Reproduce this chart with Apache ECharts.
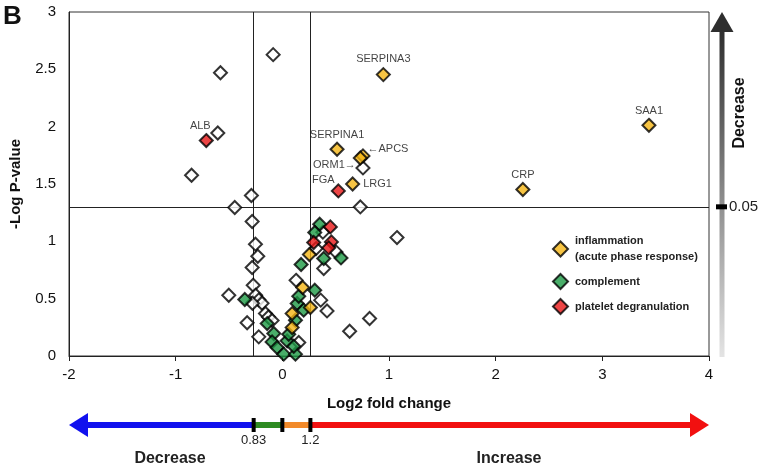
<!DOCTYPE html>
<html><head><meta charset="utf-8">
<script src="https://cdn.jsdelivr.net/npm/echarts@6/dist/echarts.min.js"></script>
<style>html,body{margin:0;padding:0;background:#fff}#c{width:765px;height:469px}</style>
</head><body><div id="c"></div>
<script>
// ---- data (log2 fold change, -log10 p) ----
const otherPts = [[-0.086,2.628],[-0.58,2.47],[-0.605,1.945],[-0.851,1.576],[-0.29,1.40],[-0.446,1.295],[-0.283,1.173],
  [-0.252,0.975],[-0.23,0.87],[-0.283,0.772],[-0.273,0.617],[-0.502,0.53],[-0.25,0.53],[-0.22,0.49],[-0.19,0.46],[-0.28,0.46],
  [-0.33,0.29],[-0.158,0.37],[-0.13,0.34],[-0.096,0.31],[-0.221,0.167],[0.756,1.64],[0.731,1.30],[1.075,1.033],[0.38,1.08],
  [0.316,0.937],[0.503,0.908],[0.388,0.763],[0.129,0.66],[0.36,0.487],[0.419,0.393],[0.818,0.327],[0.631,0.216],[0.154,0.118]];
const complementPts = [[-0.352,0.493],[-0.142,0.283],[-0.08,0.196],[-0.096,0.123],[-0.049,0.074],[0.013,0.016],[0.045,0.132],
  [0.123,0.016],[0.107,0.085],[0.06,0.19],[0.123,0.312],[0.139,0.458],[0.154,0.521],[0.2,0.4],[0.304,0.574],[0.176,0.798],
  [0.35,1.149],[0.304,1.077],[0.388,0.85],[0.55,0.855]];
const plateletPts = [[-0.713,1.879],[0.525,1.44],[0.45,1.126],[0.294,0.99],[0.46,0.995],[0.435,0.943]];
const plateletNames = ['ALB','FGA','','','',''];
const inflammationPts = [[0.947,2.454],[3.437,2.012],[0.513,1.803],[0.756,1.745],[0.731,1.727],[0.659,1.50],[2.255,1.452],
  [0.254,0.885],[0.191,0.597],[0.263,0.423],[0.092,0.37],[0.092,0.248]];
const inflammationNames = ['SERPINA3','SAA1','SERPINA1','APCS','ORM1','LRG1','CRP','','','','',''];
const legendNames = ['inflammation','complement','platelet degranulation'];
const legendText = {'inflammation':'inflammation\n(acute phase response)','complement':'complement','platelet degranulation':'platelet degranulation'};
const FC_LOW = 0.83, FC_HIGH = 1.2, P_CUT = 0.05;
const xTicks = {min:-2,max:4,interval:1};
const yTicks = {min:0,max:3,interval:0.5};

// ---- label placement (style) ----
const labelStyle = {
  'SERPINA3':{position:'top',distance:3},
  'SAA1':{position:'top',distance:1},
  'SERPINA1':{position:'top',distance:1},
  'CRP':{position:'top',distance:2},
  'ALB':{position:'top',distance:2,offset:[-6,0]},
  'FGA':{position:'top',distance:0,offset:[-15,2]},
  'LRG1':{position:'right',distance:3},
  'APCS':{position:'right',distance:0,offset:[-3,-7],formatter:'←APCS'},
  'ORM1':{position:'left',distance:-3,offset:[0,7],formatter:'ORM1→'}
};
function toItems(pts, names){
  return pts.map((p,i)=>{
    const n = names ? names[i] : '';
    const it = {value:p, name:n};
    if(n){ const s = labelStyle[n]||{position:'top'};
      it.label = Object.assign({show:true, formatter: s.formatter||n}, s);
    }
    return it;
  });
}
const FONT = '"Liberation Sans", Arial, sans-serif';
const base = {type:'scatter', symbol:'diamond', symbolSize:13,
  label:{show:false, fontSize:11, color:'#111', fontFamily:FONT}, emphasis:{disabled:true}};
const chart = echarts.init(document.getElementById('c'));
chart.setOption({
  animation:false,
  textStyle:{fontFamily:FONT},
  grid:{left:68,right:56,top:12,bottom:113,show:true,borderColor:'#333',borderWidth:1},
  xAxis:{type:'value',min:xTicks.min,max:xTicks.max,interval:xTicks.interval,
    splitLine:{show:false},axisLine:{onZero:false,lineStyle:{color:'#222',width:1}},
    axisTick:{show:true,length:5,lineStyle:{color:'#222'}},
    axisLabel:{color:'#111',fontSize:15,margin:11},
    name:'Log2 fold change',nameLocation:'middle',nameGap:40,
    nameTextStyle:{fontWeight:'bold',fontSize:15,color:'#111'}},
  yAxis:{type:'value',min:yTicks.min,max:yTicks.max,interval:yTicks.interval,
    splitLine:{show:false},axisLine:{show:true,onZero:false,lineStyle:{color:'#222',width:1}},
    axisTick:{show:false},axisLabel:{color:'#111',fontSize:15,margin:13},
    name:'-Log P-value',nameLocation:'middle',nameGap:46,nameRotate:90,
    nameTextStyle:{fontWeight:'bold',fontSize:15,color:'#111'}},
  legend:{data:legendNames,orient:'vertical',left:547,top:228,itemWidth:15,itemHeight:15,itemGap:8,
    icon:'diamond',formatter:n=>legendText[n],
    textStyle:{fontSize:11,fontWeight:'bold',color:'#222',lineHeight:16,padding:[0,0,0,2]}},
  series:[
    Object.assign({},base,{name:'other',data:toItems(otherPts),z:2,
      itemStyle:{color:'#fff',borderColor:'#000',borderWidth:2},
      markLine:{silent:true,symbol:'none',z:1,label:{show:false},lineStyle:{color:'#222',width:1,type:'solid'},
        data:[{yAxis:-Math.log10(P_CUT)},{xAxis:Math.log2(FC_LOW)},{xAxis:Math.log2(FC_HIGH)}]}}),
    Object.assign({},base,{name:'complement',data:toItems(complementPts),z:3,
      itemStyle:{color:'#1d9a45',borderColor:'#000',borderWidth:2}}),
    Object.assign({},base,{name:'platelet degranulation',data:toItems(plateletPts,plateletNames),z:4,
      itemStyle:{color:'#e81616',borderColor:'#000',borderWidth:2}}),
    Object.assign({},base,{name:'inflammation',data:toItems(inflammationPts,inflammationNames),z:5,
      itemStyle:{color:'#f5b514',borderColor:'#000',borderWidth:2}})
  ]
});

// ---- decorations computed from axes ----
const px = v=>chart.convertToPixel({xAxisIndex:0},v);
const py = v=>chart.convertToPixel({yAxisIndex:0},v);
const xL = px(xTicks.min), xR = px(xTicks.max);
const t1 = px(Math.log2(FC_LOW)), t0 = px(0), t2 = px(Math.log2(FC_HIGH));
const ay = 425, hw = 3, headL = 19, headH = 12;
const yTop = py(yTicks.max), yBot = py(yTicks.min), yCut = py(-Math.log10(P_CUT));
const ax = 722;
const g = [
  {type:'text',left:3,top:4,style:{text:'B',font:'bold 26px '+FONT,fill:'#111'}},
  // bottom arrow
  {type:'rect',shape:{x:xL+headL-1,y:ay-hw,width:t1-(xL+headL-1),height:2*hw},style:{fill:'#1111ee'}},
  {type:'rect',shape:{x:t1,y:ay-hw,width:t0-t1,height:2*hw},style:{fill:'#2e8b22'}},
  {type:'rect',shape:{x:t0,y:ay-hw,width:t2-t0,height:2*hw},style:{fill:'#f28a2a'}},
  {type:'rect',shape:{x:t2,y:ay-hw,width:(xR-headL+1)-t2,height:2*hw},style:{fill:'#f21010'}},
  {type:'polygon',shape:{points:[[xL,ay],[xL+headL,ay-headH],[xL+headL,ay+headH]]},style:{fill:'#1111ee'}},
  {type:'polygon',shape:{points:[[xR,ay],[xR-headL,ay-headH],[xR-headL,ay+headH]]},style:{fill:'#f21010'}},
  {type:'rect',shape:{x:t1-2,y:ay-7,width:4,height:14},style:{fill:'#000'}},
  {type:'rect',shape:{x:t0-2,y:ay-7,width:4,height:14},style:{fill:'#000'}},
  {type:'rect',shape:{x:t2-2,y:ay-7,width:4,height:14},style:{fill:'#000'}},
  {type:'text',x:t1,y:440,style:{text:String(FC_LOW),font:'13px '+FONT,fill:'#222',align:'center',verticalAlign:'middle'}},
  {type:'text',x:t2,y:440,style:{text:String(FC_HIGH),font:'13px '+FONT,fill:'#222',align:'center',verticalAlign:'middle'}},
  {type:'text',x:170,y:459,style:{text:'Decrease',font:'bold 16px '+FONT,fill:'#222',align:'center',verticalAlign:'middle'}},
  {type:'text',x:509,y:459,style:{text:'Increase',font:'bold 16px '+FONT,fill:'#222',align:'center',verticalAlign:'middle'}},
  // right gradient arrow
  {type:'rect',shape:{x:ax-2.5,y:yTop+18,width:5,height:yBot-yTop-17},
    style:{fill:new echarts.graphic.LinearGradient(0,0,0,1,[{offset:0,color:'#2e2e2e'},{offset:1,color:'#e4e4e4'}])}},
  {type:'polygon',shape:{points:[[ax,yTop],[ax-11.5,yTop+20],[ax+11.5,yTop+20]]},style:{fill:'#2e2e2e'}},
  {type:'rect',shape:{x:ax-6,y:yCut-2.5,width:11,height:5},style:{fill:'#000'}},
  {type:'text',x:ax+7,y:yCut,style:{text:String(P_CUT),font:'15px '+FONT,fill:'#222',align:'left',verticalAlign:'middle'}},
  {type:'text',x:740,y:113,rotation:Math.PI/2,style:{text:'Decrease',font:'bold 16px '+FONT,fill:'#111',align:'center',verticalAlign:'middle'}}
];
chart.setOption({graphic:g});
</script></body></html>
